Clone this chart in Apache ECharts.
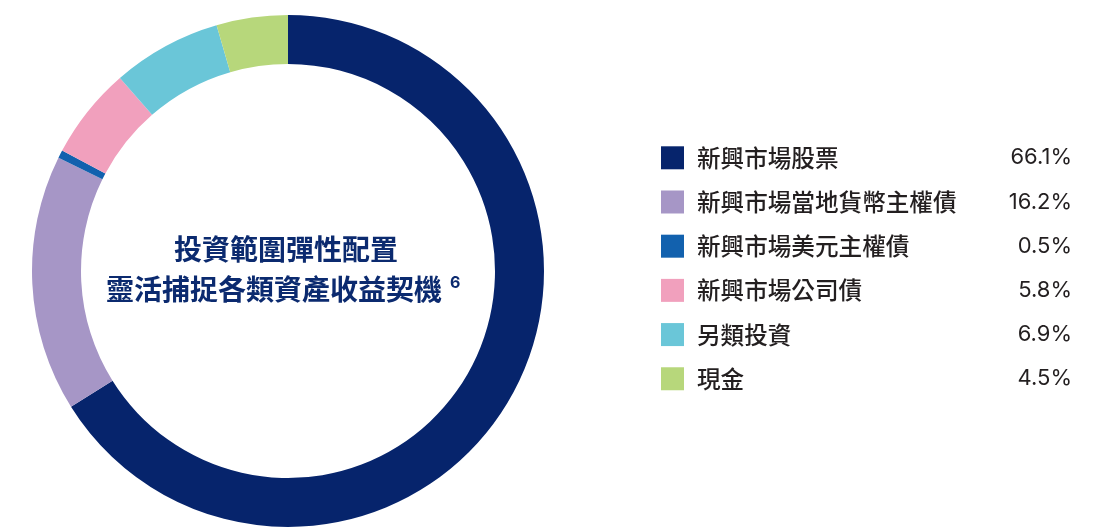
<!DOCTYPE html>
<html>
<head>
<meta charset="utf-8">
<script src="https://cdn.jsdelivr.net/npm/echarts@6/dist/echarts.min.js"></script>
<style>
html,body{margin:0;padding:0;background:#fff;}
#c{width:1113px;height:532px;}
</style>
</head>
<body>
<div id="c"></div>
<script>
const categories = ['新興市場股票','新興市場當地貨幣主權債','新興市場美元主權債','新興市場公司債','另類投資','現金'];
const values = [66.1, 16.2, 0.5, 5.8, 6.9, 4.5];
const valueLabels = ['66.1%','16.2%','0.5%','5.8%','6.9%','4.5%'];
const palette = ['#06246c','#a696c6','#1261ae','#f1a0bd','#6ac6d8','#b7d77b'];
const centerLine1 = '投資範圍彈性配置';
const centerLine2 = '靈活捕捉各類資產收益契機';
const centerSup = '6';

const chart = echarts.init(document.getElementById('c'));
const cjk = '"Noto Sans CJK TC","Noto Sans CJK SC",sans-serif';
chart.setOption({
  animation: false,
  color: palette,
  legend: {
    orient: 'vertical',
    left: 661,
    top: 146,
    padding: 0,
    itemWidth: 23,
    itemHeight: 23,
    itemGap: 20.6,
    icon: 'rect',
    selectedMode: false,
    data: categories,
    formatter: function (name) {
      const i = categories.indexOf(name);
      return '{n|' + name + '}{v|' + valueLabels[i] + '}';
    },
    textStyle: {
      padding: [0, 0, 0, 8],
      lineHeight: 23,
      rich: {
        n: { fontFamily: cjk, fontSize: 23.6, fontWeight: 500, color: '#231f20', width: 300, align: 'left', lineHeight: 23 },
        v: { fontFamily: 'Inter, sans-serif', fontSize: 22, color: '#231f20', width: 75, align: 'right', lineHeight: 23 }
      }
    }
  },
  series: [{
    type: 'pie',
    center: [288, 271],
    radius: [207, 256],
    startAngle: 90,
    clockwise: true,
    avoidLabelOverlap: false,
    label: { show: false },
    labelLine: { show: false },
    emphasis: { disabled: true },
    itemStyle: { borderWidth: 0 },
    data: categories.map((n, i) => ({ name: n, value: values[i] }))
  }],
  graphic: [
    {
      type: 'text',
      style: {
        text: centerLine1,
        x: 286, y: 249,
        align: 'center', verticalAlign: 'middle',
        fontFamily: cjk, fontWeight: 'bold', fontSize: 28, fill: '#0b2a6f'
      }
    },
    {
      type: 'text',
      style: {
        text: centerLine2,
        x: 274, y: 289,
        align: 'center', verticalAlign: 'middle',
        fontFamily: cjk, fontWeight: 'bold', fontSize: 28, fill: '#0b2a6f'
      }
    },
    {
      type: 'text',
      style: {
        text: centerSup,
        x: 450, y: 283,
        align: 'left', verticalAlign: 'middle',
        fontFamily: 'Inter, sans-serif', fontWeight: 'bold', fontSize: 16, fill: '#0b2a6f'
      }
    }
  ]
});
</script>
</body>
</html>
